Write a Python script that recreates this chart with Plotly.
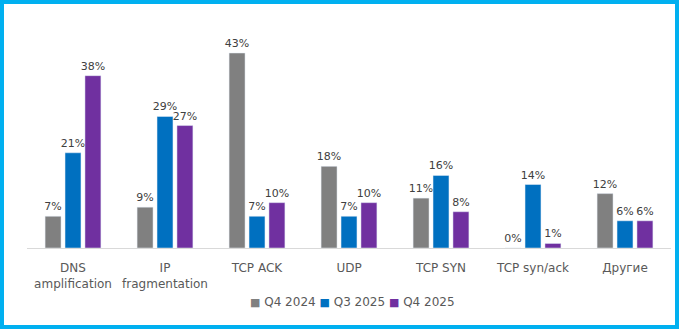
import plotly.graph_objects as go

categories = ["DNS<br>amplification", "IP<br>fragmentation", "TCP ACK", "UDP", "TCP SYN", "TCP syn/ack", "Другие"]
series_names = ["Q4 2024", "Q3 2025", "Q4 2025"]
q4_2024 = [7, 9, 43, 18, 11, 0, 12]
q3_2025 = [21, 29, 7, 7, 16, 14, 6]
q4_2025 = [38, 27, 10, 10, 8, 1, 6]
colors = ["#808080", "#0070C0", "#7030A0"]

W, H = 680, 329
L, R, T, B = 27, 9, 30, 81
pw, ph = W - L - R, H - T - B
ymax = (H - B - T) / ((248 - 53) / 43)

fig = go.Figure()
for name, vals, c in zip(series_names, [q4_2024, q3_2025, q4_2025], colors):
    fig.add_trace(go.Bar(
        x=categories, y=vals, name=name, marker_color=c,
        text=[f"{v}%" for v in vals], textposition="outside",
        textfont=dict(family="DejaVu Sans", size=11, color="#404040"),
        constraintext="none", cliponaxis=False, showlegend=False,
    ))

def px_x(p):
    return (p - L) / pw

def px_y(p):
    return (H - B - p) / ph

legend_text = "&nbsp;".join(
    f'<span style="color:{c}; font-size:11px">■</span> {n}' for n, c in zip(series_names, colors)
)

fig.update_layout(
    width=W, height=H,
    margin=dict(l=L, r=R, t=T, b=B),
    paper_bgcolor="white", plot_bgcolor="white",
    barmode="group", bargap=0.35, bargroupgap=0.2,
    font=dict(family="DejaVu Sans", size=12, color="#595959"),
    xaxis=dict(showgrid=False, showline=True, linecolor="#D9D9D9", linewidth=1,
               ticks="", ticklabelstandoff=9, tickfont=dict(size=12, color="#595959")),
    yaxis=dict(visible=False, range=[0, ymax]),
    showlegend=False,
    annotations=[dict(text=legend_text, xref="paper", yref="paper",
                      x=px_x(352), y=px_y(302), xanchor="center", yanchor="middle",
                      showarrow=False, font=dict(size=12, color="#595959"))],
    shapes=[dict(type="rect", xref="paper", yref="paper",
                 x0=px_x(2), x1=px_x(677), y0=px_y(2), y1=px_y(327),
                 line=dict(color="#00B0F0", width=4), fillcolor="rgba(0,0,0,0)", layer="above")],
)

fig.write_html("out.html")
